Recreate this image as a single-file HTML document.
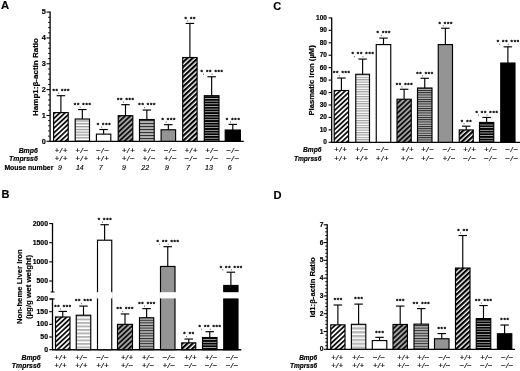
<!DOCTYPE html>
<html><head><meta charset="utf-8"><title>Figure</title>
<style>html,body{margin:0;padding:0;background:#fff}svg{display:block;filter:blur(0.35px)}</style>
</head><body>
<svg width="520" height="371" viewBox="0 0 520 371" font-family='"Liberation Sans", sans-serif' fill="#000">

<defs>
<pattern id="dW" width="3.5" height="3.5" patternUnits="userSpaceOnUse" patternTransform="rotate(-43)">
<rect width="3.5" height="3.5" fill="#fff"/><rect width="3.5" height="1.8" fill="#111"/></pattern>
<pattern id="dG" width="3.6" height="3.6" patternUnits="userSpaceOnUse" patternTransform="rotate(-43)">
<rect width="3.6" height="3.6" fill="#a6a6a6"/><rect width="3.6" height="1.85" fill="#111"/></pattern>
<pattern id="dB" width="3.6" height="3.6" patternUnits="userSpaceOnUse" patternTransform="rotate(-43)">
<rect width="3.6" height="3.6" fill="#fff"/><rect width="3.6" height="2.2" fill="#000"/></pattern>
<pattern id="hW" width="4" height="2.8" patternUnits="userSpaceOnUse">
<rect width="4" height="2.8" fill="#fff"/><rect width="4" height="1.3" fill="#969696"/></pattern>
<pattern id="hWB" width="4" height="3.5" patternUnits="userSpaceOnUse">
<rect width="4" height="3.5" fill="#fff"/><rect width="4" height="1.9" fill="#b4b4b4"/></pattern>
<pattern id="hWC" width="4" height="2.4" patternUnits="userSpaceOnUse">
<rect width="4" height="2.4" fill="#fff"/><rect width="4" height="1.15" fill="#9c9c9c"/></pattern>
<pattern id="hWD" width="4" height="3.85" patternUnits="userSpaceOnUse">
<rect width="4" height="3.85" fill="#fff"/><rect width="4" height="2.4" fill="#b8b8b8"/></pattern>
<pattern id="hG" width="4" height="3.0" patternUnits="userSpaceOnUse">
<rect width="4" height="3.0" fill="#b4b4b4"/><rect width="4" height="1.1" fill="#333"/></pattern>
<pattern id="hG2" width="4" height="2.25" patternUnits="userSpaceOnUse">
<rect width="4" height="2.25" fill="#b4b4b4"/><rect width="4" height="0.95" fill="#222"/></pattern>
<pattern id="hG3" width="4" height="2.6" patternUnits="userSpaceOnUse">
<rect width="4" height="2.6" fill="#b4b4b4"/><rect width="4" height="1.0" fill="#2a2a2a"/></pattern>
<pattern id="hB" width="4" height="2.65" patternUnits="userSpaceOnUse">
<rect width="4" height="2.65" fill="#000"/><rect width="4" height="0.8" fill="#c4c4c4"/></pattern>
</defs>

<rect width="520" height="371" fill="#fff"/>
<text x="0.90" y="9.30" font-size="11.2" font-weight="bold" font-style="normal" text-anchor="start"  stroke="#000" stroke-width="0.18">A</text>
<text x="1.50" y="198.40" font-size="11.0" font-weight="bold" font-style="normal" text-anchor="start"  stroke="#000" stroke-width="0.18">B</text>
<text x="273.20" y="10.20" font-size="11.0" font-weight="bold" font-style="normal" text-anchor="start"  stroke="#000" stroke-width="0.18">C</text>
<text x="273.60" y="198.70" font-size="11.1" font-weight="bold" font-style="normal" text-anchor="start"  stroke="#000" stroke-width="0.18">D</text>
<line x1="50.10" y1="11.60" x2="50.10" y2="141.80" stroke="#000" stroke-width="1.3"/>
<line x1="49.60" y1="141.30" x2="243.80" y2="141.30" stroke="#000" stroke-width="1.35"/>
<line x1="46.50" y1="141.30" x2="50.10" y2="141.30" stroke="#000" stroke-width="1.1"/>
<line x1="48.10" y1="136.13" x2="50.10" y2="136.13" stroke="#000" stroke-width="0.9"/>
<line x1="48.10" y1="130.96" x2="50.10" y2="130.96" stroke="#000" stroke-width="0.9"/>
<line x1="48.10" y1="125.80" x2="50.10" y2="125.80" stroke="#000" stroke-width="0.9"/>
<line x1="48.10" y1="120.63" x2="50.10" y2="120.63" stroke="#000" stroke-width="0.9"/>
<line x1="46.50" y1="115.46" x2="50.10" y2="115.46" stroke="#000" stroke-width="1.1"/>
<line x1="48.10" y1="110.29" x2="50.10" y2="110.29" stroke="#000" stroke-width="0.9"/>
<line x1="48.10" y1="105.12" x2="50.10" y2="105.12" stroke="#000" stroke-width="0.9"/>
<line x1="48.10" y1="99.96" x2="50.10" y2="99.96" stroke="#000" stroke-width="0.9"/>
<line x1="48.10" y1="94.79" x2="50.10" y2="94.79" stroke="#000" stroke-width="0.9"/>
<line x1="46.50" y1="89.62" x2="50.10" y2="89.62" stroke="#000" stroke-width="1.1"/>
<line x1="48.10" y1="84.45" x2="50.10" y2="84.45" stroke="#000" stroke-width="0.9"/>
<line x1="48.10" y1="79.28" x2="50.10" y2="79.28" stroke="#000" stroke-width="0.9"/>
<line x1="48.10" y1="74.12" x2="50.10" y2="74.12" stroke="#000" stroke-width="0.9"/>
<line x1="48.10" y1="68.95" x2="50.10" y2="68.95" stroke="#000" stroke-width="0.9"/>
<line x1="46.50" y1="63.78" x2="50.10" y2="63.78" stroke="#000" stroke-width="1.1"/>
<line x1="48.10" y1="58.61" x2="50.10" y2="58.61" stroke="#000" stroke-width="0.9"/>
<line x1="48.10" y1="53.44" x2="50.10" y2="53.44" stroke="#000" stroke-width="0.9"/>
<line x1="48.10" y1="48.28" x2="50.10" y2="48.28" stroke="#000" stroke-width="0.9"/>
<line x1="48.10" y1="43.11" x2="50.10" y2="43.11" stroke="#000" stroke-width="0.9"/>
<line x1="46.50" y1="37.94" x2="50.10" y2="37.94" stroke="#000" stroke-width="1.1"/>
<line x1="48.10" y1="32.77" x2="50.10" y2="32.77" stroke="#000" stroke-width="0.9"/>
<line x1="48.10" y1="27.60" x2="50.10" y2="27.60" stroke="#000" stroke-width="0.9"/>
<line x1="48.10" y1="22.44" x2="50.10" y2="22.44" stroke="#000" stroke-width="0.9"/>
<line x1="48.10" y1="17.27" x2="50.10" y2="17.27" stroke="#000" stroke-width="0.9"/>
<line x1="46.50" y1="12.10" x2="50.10" y2="12.10" stroke="#000" stroke-width="1.1"/>
<text x="45.90" y="143.56" font-size="7.3" font-weight="bold" font-style="normal" text-anchor="end"  stroke="#000" stroke-width="0.18">0</text>
<text x="45.90" y="117.72" font-size="7.3" font-weight="bold" font-style="normal" text-anchor="end"  stroke="#000" stroke-width="0.18">1</text>
<text x="45.90" y="91.88" font-size="7.3" font-weight="bold" font-style="normal" text-anchor="end"  stroke="#000" stroke-width="0.18">2</text>
<text x="45.90" y="66.04" font-size="7.3" font-weight="bold" font-style="normal" text-anchor="end"  stroke="#000" stroke-width="0.18">3</text>
<text x="45.90" y="40.20" font-size="7.3" font-weight="bold" font-style="normal" text-anchor="end"  stroke="#000" stroke-width="0.18">4</text>
<text x="45.90" y="14.36" font-size="7.3" font-weight="bold" font-style="normal" text-anchor="end"  stroke="#000" stroke-width="0.18">5</text>
<text x="38.30" y="77.00" font-size="8.03" font-weight="bold" font-style="normal" text-anchor="middle" transform="rotate(-90 38.3 77.0)"  stroke="#000" stroke-width="0.18">Hamp1:β-actin Ratio</text>
<line x1="60.90" y1="95.70" x2="60.90" y2="112.61" stroke="#000" stroke-width="1.15"/>
<line x1="56.65" y1="95.70" x2="65.15" y2="95.70" stroke="#000" stroke-width="1.15"/>
<rect x="53.60" y="112.61" width="14.60" height="28.69" fill="url(#dW)" stroke="#000" stroke-width="1.15"/>
<text x="61.26" y="93.05" font-size="6.0" font-weight="bold" font-style="normal" text-anchor="middle" stroke="#000" stroke-width="0.28" letter-spacing="0.72" word-spacing="0">** ***</text>
<rect x="58.30" y="92.60" width="0.8" height="1.3" fill="#555"/>
<text x="61.25" y="153.00" font-size="8.0" font-weight="normal" font-style="italic" text-anchor="middle" letter-spacing="0.7" stroke="#000" stroke-width="0.15">+/+</text>
<text x="61.25" y="161.30" font-size="8.0" font-weight="normal" font-style="italic" text-anchor="middle" letter-spacing="0.7" stroke="#000" stroke-width="0.15">+/+</text>
<text x="60.00" y="170.00" font-size="7.0" font-weight="normal" font-style="italic" text-anchor="middle" stroke="#000" stroke-width="0.15">9</text>
<line x1="82.35" y1="109.53" x2="82.35" y2="119.01" stroke="#000" stroke-width="1.15"/>
<line x1="78.10" y1="109.53" x2="86.60" y2="109.53" stroke="#000" stroke-width="1.15"/>
<rect x="75.20" y="119.01" width="14.30" height="22.29" fill="url(#hW)" stroke="#000" stroke-width="1.15"/>
<text x="82.71" y="106.88" font-size="6.0" font-weight="bold" font-style="normal" text-anchor="middle" stroke="#000" stroke-width="0.28" letter-spacing="0.72" word-spacing="0">** ***</text>
<rect x="79.75" y="106.43" width="0.8" height="1.3" fill="#555"/>
<text x="82.05" y="153.00" font-size="8.0" font-weight="normal" font-style="italic" text-anchor="middle" letter-spacing="0.7" stroke="#000" stroke-width="0.15">+/−</text>
<text x="82.05" y="161.30" font-size="8.0" font-weight="normal" font-style="italic" text-anchor="middle" letter-spacing="0.7" stroke="#000" stroke-width="0.15">+/+</text>
<text x="79.80" y="170.00" font-size="7.0" font-weight="normal" font-style="italic" text-anchor="middle" stroke="#000" stroke-width="0.15">14</text>
<line x1="103.60" y1="129.51" x2="103.60" y2="134.13" stroke="#000" stroke-width="1.15"/>
<line x1="99.35" y1="129.51" x2="107.85" y2="129.51" stroke="#000" stroke-width="1.15"/>
<rect x="96.40" y="134.13" width="14.40" height="7.17" fill="#fff" stroke="#000" stroke-width="1.15"/>
<text x="103.96" y="126.86" font-size="6.0" font-weight="bold" font-style="normal" text-anchor="middle" stroke="#000" stroke-width="0.28" letter-spacing="0.72" word-spacing="0">* ***</text>
<rect x="101.00" y="126.41" width="0.8" height="1.3" fill="#555"/>
<text x="102.85" y="153.00" font-size="8.0" font-weight="normal" font-style="italic" text-anchor="middle" letter-spacing="0.7" stroke="#000" stroke-width="0.15">−/−</text>
<text x="102.85" y="161.30" font-size="8.0" font-weight="normal" font-style="italic" text-anchor="middle" letter-spacing="0.7" stroke="#000" stroke-width="0.15">+/+</text>
<text x="100.70" y="170.00" font-size="7.0" font-weight="normal" font-style="italic" text-anchor="middle" stroke="#000" stroke-width="0.15">7</text>
<line x1="125.50" y1="104.66" x2="125.50" y2="115.68" stroke="#000" stroke-width="1.15"/>
<line x1="121.25" y1="104.66" x2="129.75" y2="104.66" stroke="#000" stroke-width="1.15"/>
<rect x="118.20" y="115.68" width="14.60" height="25.62" fill="url(#dG)" stroke="#000" stroke-width="1.15"/>
<text x="125.86" y="102.01" font-size="6.0" font-weight="bold" font-style="normal" text-anchor="middle" stroke="#000" stroke-width="0.28" letter-spacing="0.72" word-spacing="0">** ***</text>
<rect x="122.90" y="101.56" width="0.8" height="1.3" fill="#555"/>
<text x="128.55" y="153.00" font-size="8.0" font-weight="normal" font-style="italic" text-anchor="middle" letter-spacing="0.7" stroke="#000" stroke-width="0.15">+/+</text>
<text x="128.55" y="161.30" font-size="8.0" font-weight="normal" font-style="italic" text-anchor="middle" letter-spacing="0.7" stroke="#000" stroke-width="0.15">+/−</text>
<text x="124.00" y="170.00" font-size="7.0" font-weight="normal" font-style="italic" text-anchor="middle" stroke="#000" stroke-width="0.15">9</text>
<line x1="146.85" y1="110.04" x2="146.85" y2="119.52" stroke="#000" stroke-width="1.15"/>
<line x1="142.60" y1="110.04" x2="151.10" y2="110.04" stroke="#000" stroke-width="1.15"/>
<rect x="139.50" y="119.52" width="14.70" height="21.78" fill="url(#hG)" stroke="#000" stroke-width="1.15"/>
<text x="147.21" y="107.39" font-size="6.0" font-weight="bold" font-style="normal" text-anchor="middle" stroke="#000" stroke-width="0.28" letter-spacing="0.72" word-spacing="0">** ***</text>
<rect x="144.25" y="106.94" width="0.8" height="1.3" fill="#555"/>
<text x="149.35" y="153.00" font-size="8.0" font-weight="normal" font-style="italic" text-anchor="middle" letter-spacing="0.7" stroke="#000" stroke-width="0.15">+/−</text>
<text x="149.35" y="161.30" font-size="8.0" font-weight="normal" font-style="italic" text-anchor="middle" letter-spacing="0.7" stroke="#000" stroke-width="0.15">+/−</text>
<text x="145.20" y="170.00" font-size="7.0" font-weight="normal" font-style="italic" text-anchor="middle" stroke="#000" stroke-width="0.15">22</text>
<line x1="168.35" y1="124.65" x2="168.35" y2="129.77" stroke="#000" stroke-width="1.15"/>
<line x1="164.10" y1="124.65" x2="172.60" y2="124.65" stroke="#000" stroke-width="1.15"/>
<rect x="161.10" y="129.77" width="14.50" height="11.53" fill="#949494" stroke="#000" stroke-width="1.15"/>
<text x="168.71" y="122.00" font-size="6.0" font-weight="bold" font-style="normal" text-anchor="middle" stroke="#000" stroke-width="0.28" letter-spacing="0.72" word-spacing="0">* ***</text>
<rect x="165.75" y="121.55" width="0.8" height="1.3" fill="#555"/>
<text x="170.55" y="153.00" font-size="8.0" font-weight="normal" font-style="italic" text-anchor="middle" letter-spacing="0.7" stroke="#000" stroke-width="0.15">−/−</text>
<text x="170.55" y="161.30" font-size="8.0" font-weight="normal" font-style="italic" text-anchor="middle" letter-spacing="0.7" stroke="#000" stroke-width="0.15">+/−</text>
<text x="166.90" y="170.00" font-size="7.0" font-weight="normal" font-style="italic" text-anchor="middle" stroke="#000" stroke-width="0.15">9</text>
<line x1="189.90" y1="23.45" x2="189.90" y2="57.52" stroke="#000" stroke-width="1.15"/>
<line x1="185.65" y1="23.45" x2="194.15" y2="23.45" stroke="#000" stroke-width="1.15"/>
<rect x="182.70" y="57.52" width="14.40" height="83.78" fill="url(#dB)" stroke="#000" stroke-width="1.15"/>
<text x="190.26" y="20.80" font-size="6.0" font-weight="bold" font-style="normal" text-anchor="middle" stroke="#000" stroke-width="0.28" letter-spacing="0.72" word-spacing="0">* **</text>
<rect x="187.30" y="20.35" width="0.8" height="1.3" fill="#555"/>
<text x="191.35" y="153.00" font-size="8.0" font-weight="normal" font-style="italic" text-anchor="middle" letter-spacing="0.7" stroke="#000" stroke-width="0.15">+/+</text>
<text x="191.35" y="161.30" font-size="8.0" font-weight="normal" font-style="italic" text-anchor="middle" letter-spacing="0.7" stroke="#000" stroke-width="0.15">−/−</text>
<text x="188.00" y="170.00" font-size="7.0" font-weight="normal" font-style="italic" text-anchor="middle" stroke="#000" stroke-width="0.15">7</text>
<line x1="211.65" y1="76.74" x2="211.65" y2="95.70" stroke="#000" stroke-width="1.15"/>
<line x1="207.40" y1="76.74" x2="215.90" y2="76.74" stroke="#000" stroke-width="1.15"/>
<rect x="204.30" y="95.70" width="14.70" height="45.60" fill="url(#hB)" stroke="#000" stroke-width="1.15"/>
<text x="212.01" y="74.09" font-size="6.0" font-weight="bold" font-style="normal" text-anchor="middle" stroke="#000" stroke-width="0.28" letter-spacing="0.72" word-spacing="0">* ** ***</text>
<rect x="203.15" y="73.64" width="0.8" height="1.3" fill="#555"/>
<rect x="211.65" y="73.64" width="0.8" height="1.3" fill="#555"/>
<text x="212.05" y="153.00" font-size="8.0" font-weight="normal" font-style="italic" text-anchor="middle" letter-spacing="0.7" stroke="#000" stroke-width="0.15">+/−</text>
<text x="212.05" y="161.30" font-size="8.0" font-weight="normal" font-style="italic" text-anchor="middle" letter-spacing="0.7" stroke="#000" stroke-width="0.15">−/−</text>
<text x="209.00" y="170.00" font-size="7.0" font-weight="normal" font-style="italic" text-anchor="middle" stroke="#000" stroke-width="0.15">13</text>
<line x1="232.80" y1="124.39" x2="232.80" y2="130.03" stroke="#000" stroke-width="1.15"/>
<line x1="228.55" y1="124.39" x2="237.05" y2="124.39" stroke="#000" stroke-width="1.15"/>
<rect x="225.20" y="130.03" width="15.20" height="11.27" fill="#000" stroke="#000" stroke-width="1.15"/>
<text x="233.16" y="121.74" font-size="6.0" font-weight="bold" font-style="normal" text-anchor="middle" stroke="#000" stroke-width="0.28" letter-spacing="0.72" word-spacing="0">* ***</text>
<rect x="230.20" y="121.29" width="0.8" height="1.3" fill="#555"/>
<text x="233.05" y="153.00" font-size="8.0" font-weight="normal" font-style="italic" text-anchor="middle" letter-spacing="0.7" stroke="#000" stroke-width="0.15">−/−</text>
<text x="233.05" y="161.30" font-size="8.0" font-weight="normal" font-style="italic" text-anchor="middle" letter-spacing="0.7" stroke="#000" stroke-width="0.15">−/−</text>
<text x="229.80" y="170.00" font-size="7.0" font-weight="normal" font-style="italic" text-anchor="middle" stroke="#000" stroke-width="0.15">6</text>
<text x="37.80" y="153.00" font-size="6.9" font-weight="bold" font-style="italic" text-anchor="end"  stroke="#000" stroke-width="0.18">Bmp6</text>
<text x="37.80" y="161.30" font-size="6.9" font-weight="bold" font-style="italic" text-anchor="end"  stroke="#000" stroke-width="0.18">Tmprss6</text>
<text x="53.40" y="170.00" font-size="6.9" font-weight="bold" font-style="normal" text-anchor="end"  stroke="#000" stroke-width="0.18">Mouse number</text>
<line x1="331.70" y1="17.40" x2="331.70" y2="142.80" stroke="#000" stroke-width="1.3"/>
<line x1="331.20" y1="142.30" x2="520.00" y2="142.30" stroke="#000" stroke-width="1.35"/>
<line x1="328.60" y1="142.30" x2="331.70" y2="142.30" stroke="#000" stroke-width="1.1"/>
<line x1="328.60" y1="129.86" x2="331.70" y2="129.86" stroke="#000" stroke-width="1.1"/>
<line x1="328.60" y1="117.42" x2="331.70" y2="117.42" stroke="#000" stroke-width="1.1"/>
<line x1="328.60" y1="104.98" x2="331.70" y2="104.98" stroke="#000" stroke-width="1.1"/>
<line x1="328.60" y1="92.54" x2="331.70" y2="92.54" stroke="#000" stroke-width="1.1"/>
<line x1="328.60" y1="80.10" x2="331.70" y2="80.10" stroke="#000" stroke-width="1.1"/>
<line x1="328.60" y1="67.66" x2="331.70" y2="67.66" stroke="#000" stroke-width="1.1"/>
<line x1="328.60" y1="55.22" x2="331.70" y2="55.22" stroke="#000" stroke-width="1.1"/>
<line x1="328.60" y1="42.78" x2="331.70" y2="42.78" stroke="#000" stroke-width="1.1"/>
<line x1="328.60" y1="30.34" x2="331.70" y2="30.34" stroke="#000" stroke-width="1.1"/>
<line x1="328.60" y1="17.90" x2="331.70" y2="17.90" stroke="#000" stroke-width="1.1"/>
<text x="326.90" y="144.28" font-size="6.5" font-weight="bold" font-style="normal" text-anchor="end"  stroke="#000" stroke-width="0.18">0</text>
<text x="326.90" y="131.84" font-size="6.5" font-weight="bold" font-style="normal" text-anchor="end"  stroke="#000" stroke-width="0.18">10</text>
<text x="326.90" y="119.40" font-size="6.5" font-weight="bold" font-style="normal" text-anchor="end"  stroke="#000" stroke-width="0.18">20</text>
<text x="326.90" y="106.96" font-size="6.5" font-weight="bold" font-style="normal" text-anchor="end"  stroke="#000" stroke-width="0.18">30</text>
<text x="326.90" y="94.52" font-size="6.5" font-weight="bold" font-style="normal" text-anchor="end"  stroke="#000" stroke-width="0.18">40</text>
<text x="326.90" y="82.08" font-size="6.5" font-weight="bold" font-style="normal" text-anchor="end"  stroke="#000" stroke-width="0.18">50</text>
<text x="326.90" y="69.64" font-size="6.5" font-weight="bold" font-style="normal" text-anchor="end"  stroke="#000" stroke-width="0.18">60</text>
<text x="326.90" y="57.20" font-size="6.5" font-weight="bold" font-style="normal" text-anchor="end"  stroke="#000" stroke-width="0.18">70</text>
<text x="326.90" y="44.76" font-size="6.5" font-weight="bold" font-style="normal" text-anchor="end"  stroke="#000" stroke-width="0.18">80</text>
<text x="326.90" y="32.32" font-size="6.5" font-weight="bold" font-style="normal" text-anchor="end"  stroke="#000" stroke-width="0.18">90</text>
<text x="326.90" y="19.88" font-size="6.5" font-weight="bold" font-style="normal" text-anchor="end"  stroke="#000" stroke-width="0.18">100</text>
<text x="314.30" y="80.40" font-size="7.65" font-weight="bold" font-style="normal" text-anchor="middle" transform="rotate(-90 314.3 80.4)"  stroke="#000" stroke-width="0.18">Plasmatic Iron (µM)</text>
<line x1="341.40" y1="78.03" x2="341.40" y2="90.51" stroke="#000" stroke-width="1.15"/>
<line x1="337.15" y1="78.03" x2="345.65" y2="78.03" stroke="#000" stroke-width="1.15"/>
<rect x="334.20" y="90.51" width="14.40" height="51.79" fill="url(#dW)" stroke="#000" stroke-width="1.15"/>
<text x="341.76" y="75.38" font-size="6.0" font-weight="bold" font-style="normal" text-anchor="middle" stroke="#000" stroke-width="0.28" letter-spacing="0.72" word-spacing="0">** ***</text>
<rect x="338.80" y="74.93" width="0.8" height="1.3" fill="#555"/>
<text x="340.85" y="152.20" font-size="8.0" font-weight="normal" font-style="italic" text-anchor="middle" letter-spacing="0.7" stroke="#000" stroke-width="0.15">+/+</text>
<text x="340.85" y="160.80" font-size="8.0" font-weight="normal" font-style="italic" text-anchor="middle" letter-spacing="0.7" stroke="#000" stroke-width="0.15">+/+</text>
<line x1="362.62" y1="59.06" x2="362.62" y2="74.28" stroke="#000" stroke-width="1.15"/>
<line x1="358.38" y1="59.06" x2="366.88" y2="59.06" stroke="#000" stroke-width="1.15"/>
<rect x="355.75" y="74.28" width="13.75" height="68.02" fill="url(#hWC)" stroke="#000" stroke-width="1.15"/>
<text x="362.99" y="56.41" font-size="6.0" font-weight="bold" font-style="normal" text-anchor="middle" stroke="#000" stroke-width="0.28" letter-spacing="0.72" word-spacing="0">* ** ***</text>
<rect x="354.12" y="55.96" width="0.8" height="1.3" fill="#555"/>
<rect x="362.62" y="55.96" width="0.8" height="1.3" fill="#555"/>
<text x="361.95" y="152.20" font-size="8.0" font-weight="normal" font-style="italic" text-anchor="middle" letter-spacing="0.7" stroke="#000" stroke-width="0.15">+/−</text>
<text x="361.95" y="160.80" font-size="8.0" font-weight="normal" font-style="italic" text-anchor="middle" letter-spacing="0.7" stroke="#000" stroke-width="0.15">+/+</text>
<line x1="383.50" y1="38.09" x2="383.50" y2="44.58" stroke="#000" stroke-width="1.15"/>
<line x1="379.25" y1="38.09" x2="387.75" y2="38.09" stroke="#000" stroke-width="1.15"/>
<rect x="376.25" y="44.58" width="14.50" height="97.72" fill="#fff" stroke="#000" stroke-width="1.15"/>
<text x="383.86" y="35.44" font-size="6.0" font-weight="bold" font-style="normal" text-anchor="middle" stroke="#000" stroke-width="0.28" letter-spacing="0.72" word-spacing="0">* ***</text>
<rect x="380.90" y="34.99" width="0.8" height="1.3" fill="#555"/>
<text x="382.65" y="152.20" font-size="8.0" font-weight="normal" font-style="italic" text-anchor="middle" letter-spacing="0.7" stroke="#000" stroke-width="0.15">−/−</text>
<text x="382.65" y="160.80" font-size="8.0" font-weight="normal" font-style="italic" text-anchor="middle" letter-spacing="0.7" stroke="#000" stroke-width="0.15">+/+</text>
<line x1="404.12" y1="89.26" x2="404.12" y2="99.24" stroke="#000" stroke-width="1.15"/>
<line x1="399.88" y1="89.26" x2="408.38" y2="89.26" stroke="#000" stroke-width="1.15"/>
<rect x="397.00" y="99.24" width="14.25" height="43.06" fill="url(#dG)" stroke="#000" stroke-width="1.15"/>
<text x="404.49" y="86.61" font-size="6.0" font-weight="bold" font-style="normal" text-anchor="middle" stroke="#000" stroke-width="0.28" letter-spacing="0.72" word-spacing="0">** ***</text>
<rect x="401.52" y="86.16" width="0.8" height="1.3" fill="#555"/>
<text x="407.65" y="152.20" font-size="8.0" font-weight="normal" font-style="italic" text-anchor="middle" letter-spacing="0.7" stroke="#000" stroke-width="0.15">+/+</text>
<text x="407.65" y="160.80" font-size="8.0" font-weight="normal" font-style="italic" text-anchor="middle" letter-spacing="0.7" stroke="#000" stroke-width="0.15">+/−</text>
<line x1="424.75" y1="78.28" x2="424.75" y2="88.01" stroke="#000" stroke-width="1.15"/>
<line x1="420.50" y1="78.28" x2="429.00" y2="78.28" stroke="#000" stroke-width="1.15"/>
<rect x="417.50" y="88.01" width="14.50" height="54.29" fill="url(#hG2)" stroke="#000" stroke-width="1.15"/>
<text x="425.11" y="75.63" font-size="6.0" font-weight="bold" font-style="normal" text-anchor="middle" stroke="#000" stroke-width="0.28" letter-spacing="0.72" word-spacing="0">** ***</text>
<rect x="422.15" y="75.18" width="0.8" height="1.3" fill="#555"/>
<text x="427.85" y="152.20" font-size="8.0" font-weight="normal" font-style="italic" text-anchor="middle" letter-spacing="0.7" stroke="#000" stroke-width="0.15">+/−</text>
<text x="427.85" y="160.80" font-size="8.0" font-weight="normal" font-style="italic" text-anchor="middle" letter-spacing="0.7" stroke="#000" stroke-width="0.15">+/−</text>
<line x1="445.38" y1="28.23" x2="445.38" y2="44.58" stroke="#000" stroke-width="1.15"/>
<line x1="441.12" y1="28.23" x2="449.62" y2="28.23" stroke="#000" stroke-width="1.15"/>
<rect x="438.25" y="44.58" width="14.25" height="97.72" fill="#949494" stroke="#000" stroke-width="1.15"/>
<text x="445.74" y="25.58" font-size="6.0" font-weight="bold" font-style="normal" text-anchor="middle" stroke="#000" stroke-width="0.28" letter-spacing="0.72" word-spacing="0">* ***</text>
<rect x="442.77" y="25.13" width="0.8" height="1.3" fill="#555"/>
<text x="449.25" y="152.20" font-size="8.0" font-weight="normal" font-style="italic" text-anchor="middle" letter-spacing="0.7" stroke="#000" stroke-width="0.15">−/−</text>
<text x="449.25" y="160.80" font-size="8.0" font-weight="normal" font-style="italic" text-anchor="middle" letter-spacing="0.7" stroke="#000" stroke-width="0.15">+/−</text>
<line x1="466.25" y1="126.20" x2="466.25" y2="129.94" stroke="#000" stroke-width="1.15"/>
<line x1="462.00" y1="126.20" x2="470.50" y2="126.20" stroke="#000" stroke-width="1.15"/>
<rect x="459.25" y="129.94" width="14.00" height="12.36" fill="url(#dB)" stroke="#000" stroke-width="1.15"/>
<text x="466.61" y="123.55" font-size="6.0" font-weight="bold" font-style="normal" text-anchor="middle" stroke="#000" stroke-width="0.28" letter-spacing="0.72" word-spacing="0">* **</text>
<rect x="463.65" y="123.10" width="0.8" height="1.3" fill="#555"/>
<text x="469.85" y="152.20" font-size="8.0" font-weight="normal" font-style="italic" text-anchor="middle" letter-spacing="0.7" stroke="#000" stroke-width="0.15">+/+</text>
<text x="469.85" y="160.80" font-size="8.0" font-weight="normal" font-style="italic" text-anchor="middle" letter-spacing="0.7" stroke="#000" stroke-width="0.15">−/−</text>
<line x1="486.62" y1="117.46" x2="486.62" y2="122.46" stroke="#000" stroke-width="1.15"/>
<line x1="482.38" y1="117.46" x2="490.88" y2="117.46" stroke="#000" stroke-width="1.15"/>
<rect x="479.50" y="122.46" width="14.25" height="19.84" fill="url(#hB)" stroke="#000" stroke-width="1.15"/>
<text x="486.99" y="114.81" font-size="6.0" font-weight="bold" font-style="normal" text-anchor="middle" stroke="#000" stroke-width="0.28" letter-spacing="0.72" word-spacing="0">* ** ***</text>
<rect x="478.12" y="114.36" width="0.8" height="1.3" fill="#555"/>
<rect x="486.62" y="114.36" width="0.8" height="1.3" fill="#555"/>
<text x="490.85" y="152.20" font-size="8.0" font-weight="normal" font-style="italic" text-anchor="middle" letter-spacing="0.7" stroke="#000" stroke-width="0.15">+/−</text>
<text x="490.85" y="160.80" font-size="8.0" font-weight="normal" font-style="italic" text-anchor="middle" letter-spacing="0.7" stroke="#000" stroke-width="0.15">−/−</text>
<line x1="507.88" y1="46.83" x2="507.88" y2="63.05" stroke="#000" stroke-width="1.15"/>
<line x1="503.62" y1="46.83" x2="512.12" y2="46.83" stroke="#000" stroke-width="1.15"/>
<rect x="500.75" y="63.05" width="14.25" height="79.25" fill="#000" stroke="#000" stroke-width="1.15"/>
<text x="508.24" y="44.18" font-size="6.0" font-weight="bold" font-style="normal" text-anchor="middle" stroke="#000" stroke-width="0.28" letter-spacing="0.72" word-spacing="0">* ** ***</text>
<rect x="499.38" y="43.73" width="0.8" height="1.3" fill="#555"/>
<rect x="507.88" y="43.73" width="0.8" height="1.3" fill="#555"/>
<text x="512.05" y="152.20" font-size="8.0" font-weight="normal" font-style="italic" text-anchor="middle" letter-spacing="0.7" stroke="#000" stroke-width="0.15">−/−</text>
<text x="512.05" y="160.80" font-size="8.0" font-weight="normal" font-style="italic" text-anchor="middle" letter-spacing="0.7" stroke="#000" stroke-width="0.15">−/−</text>
<text x="321.40" y="152.20" font-size="6.6" font-weight="bold" font-style="italic" text-anchor="end"  stroke="#000" stroke-width="0.18">Bmp6</text>
<text x="321.40" y="160.80" font-size="6.6" font-weight="bold" font-style="italic" text-anchor="end"  stroke="#000" stroke-width="0.18">Tmprss6</text>
<line x1="327.20" y1="224.27" x2="327.20" y2="349.80" stroke="#000" stroke-width="1.3"/>
<line x1="326.70" y1="349.30" x2="515.00" y2="349.30" stroke="#000" stroke-width="1.35"/>
<line x1="323.70" y1="349.30" x2="327.20" y2="349.30" stroke="#000" stroke-width="1.1"/>
<line x1="325.20" y1="345.74" x2="327.20" y2="345.74" stroke="#000" stroke-width="0.9"/>
<line x1="325.20" y1="342.18" x2="327.20" y2="342.18" stroke="#000" stroke-width="0.9"/>
<line x1="325.20" y1="338.63" x2="327.20" y2="338.63" stroke="#000" stroke-width="0.9"/>
<line x1="325.20" y1="335.07" x2="327.20" y2="335.07" stroke="#000" stroke-width="0.9"/>
<line x1="323.70" y1="331.51" x2="327.20" y2="331.51" stroke="#000" stroke-width="1.1"/>
<line x1="325.20" y1="327.95" x2="327.20" y2="327.95" stroke="#000" stroke-width="0.9"/>
<line x1="325.20" y1="324.39" x2="327.20" y2="324.39" stroke="#000" stroke-width="0.9"/>
<line x1="325.20" y1="320.84" x2="327.20" y2="320.84" stroke="#000" stroke-width="0.9"/>
<line x1="325.20" y1="317.28" x2="327.20" y2="317.28" stroke="#000" stroke-width="0.9"/>
<line x1="323.70" y1="313.72" x2="327.20" y2="313.72" stroke="#000" stroke-width="1.1"/>
<line x1="325.20" y1="310.16" x2="327.20" y2="310.16" stroke="#000" stroke-width="0.9"/>
<line x1="325.20" y1="306.60" x2="327.20" y2="306.60" stroke="#000" stroke-width="0.9"/>
<line x1="325.20" y1="303.05" x2="327.20" y2="303.05" stroke="#000" stroke-width="0.9"/>
<line x1="325.20" y1="299.49" x2="327.20" y2="299.49" stroke="#000" stroke-width="0.9"/>
<line x1="323.70" y1="295.93" x2="327.20" y2="295.93" stroke="#000" stroke-width="1.1"/>
<line x1="325.20" y1="292.37" x2="327.20" y2="292.37" stroke="#000" stroke-width="0.9"/>
<line x1="325.20" y1="288.81" x2="327.20" y2="288.81" stroke="#000" stroke-width="0.9"/>
<line x1="325.20" y1="285.26" x2="327.20" y2="285.26" stroke="#000" stroke-width="0.9"/>
<line x1="325.20" y1="281.70" x2="327.20" y2="281.70" stroke="#000" stroke-width="0.9"/>
<line x1="323.70" y1="278.14" x2="327.20" y2="278.14" stroke="#000" stroke-width="1.1"/>
<line x1="325.20" y1="274.58" x2="327.20" y2="274.58" stroke="#000" stroke-width="0.9"/>
<line x1="325.20" y1="271.02" x2="327.20" y2="271.02" stroke="#000" stroke-width="0.9"/>
<line x1="325.20" y1="267.47" x2="327.20" y2="267.47" stroke="#000" stroke-width="0.9"/>
<line x1="325.20" y1="263.91" x2="327.20" y2="263.91" stroke="#000" stroke-width="0.9"/>
<line x1="323.70" y1="260.35" x2="327.20" y2="260.35" stroke="#000" stroke-width="1.1"/>
<line x1="325.20" y1="256.79" x2="327.20" y2="256.79" stroke="#000" stroke-width="0.9"/>
<line x1="325.20" y1="253.23" x2="327.20" y2="253.23" stroke="#000" stroke-width="0.9"/>
<line x1="325.20" y1="249.68" x2="327.20" y2="249.68" stroke="#000" stroke-width="0.9"/>
<line x1="325.20" y1="246.12" x2="327.20" y2="246.12" stroke="#000" stroke-width="0.9"/>
<line x1="323.70" y1="242.56" x2="327.20" y2="242.56" stroke="#000" stroke-width="1.1"/>
<line x1="325.20" y1="239.00" x2="327.20" y2="239.00" stroke="#000" stroke-width="0.9"/>
<line x1="325.20" y1="235.44" x2="327.20" y2="235.44" stroke="#000" stroke-width="0.9"/>
<line x1="325.20" y1="231.89" x2="327.20" y2="231.89" stroke="#000" stroke-width="0.9"/>
<line x1="325.20" y1="228.33" x2="327.20" y2="228.33" stroke="#000" stroke-width="0.9"/>
<line x1="323.70" y1="224.77" x2="327.20" y2="224.77" stroke="#000" stroke-width="1.1"/>
<text x="323.50" y="351.31" font-size="6.6" font-weight="bold" font-style="normal" text-anchor="end"  stroke="#000" stroke-width="0.18">0</text>
<text x="323.50" y="333.52" font-size="6.6" font-weight="bold" font-style="normal" text-anchor="end"  stroke="#000" stroke-width="0.18">1</text>
<text x="323.50" y="315.73" font-size="6.6" font-weight="bold" font-style="normal" text-anchor="end"  stroke="#000" stroke-width="0.18">2</text>
<text x="323.50" y="297.94" font-size="6.6" font-weight="bold" font-style="normal" text-anchor="end"  stroke="#000" stroke-width="0.18">3</text>
<text x="323.50" y="280.15" font-size="6.6" font-weight="bold" font-style="normal" text-anchor="end"  stroke="#000" stroke-width="0.18">4</text>
<text x="323.50" y="262.36" font-size="6.6" font-weight="bold" font-style="normal" text-anchor="end"  stroke="#000" stroke-width="0.18">5</text>
<text x="323.50" y="244.57" font-size="6.6" font-weight="bold" font-style="normal" text-anchor="end"  stroke="#000" stroke-width="0.18">6</text>
<text x="323.50" y="226.78" font-size="6.6" font-weight="bold" font-style="normal" text-anchor="end"  stroke="#000" stroke-width="0.18">7</text>
<text x="315.00" y="287.40" font-size="7.7" font-weight="bold" font-style="normal" text-anchor="middle" transform="rotate(-90 315.0 287.4)"  stroke="#000" stroke-width="0.18">Id1:β-actin Ratio</text>
<line x1="337.88" y1="305.01" x2="337.88" y2="324.83" stroke="#000" stroke-width="1.15"/>
<line x1="333.62" y1="305.01" x2="342.12" y2="305.01" stroke="#000" stroke-width="1.15"/>
<rect x="330.75" y="324.83" width="14.25" height="24.47" fill="url(#dW)" stroke="#000" stroke-width="1.15"/>
<text x="338.24" y="302.36" font-size="6.0" font-weight="bold" font-style="normal" text-anchor="middle" stroke="#000" stroke-width="0.28" letter-spacing="0.72" word-spacing="0">***</text>
<text x="337.28" y="359.70" font-size="8.0" font-weight="normal" font-style="italic" text-anchor="middle" letter-spacing="0.35" stroke="#000" stroke-width="0.15">+/+</text>
<text x="337.28" y="368.30" font-size="8.0" font-weight="normal" font-style="italic" text-anchor="middle" letter-spacing="0.35" stroke="#000" stroke-width="0.15">+/+</text>
<line x1="358.60" y1="304.11" x2="358.60" y2="324.30" stroke="#000" stroke-width="1.15"/>
<line x1="354.35" y1="304.11" x2="362.85" y2="304.11" stroke="#000" stroke-width="1.15"/>
<rect x="351.40" y="324.30" width="14.40" height="25.00" fill="url(#hWD)" stroke="#000" stroke-width="1.15"/>
<text x="358.96" y="301.46" font-size="6.0" font-weight="bold" font-style="normal" text-anchor="middle" stroke="#000" stroke-width="0.28" letter-spacing="0.72" word-spacing="0">***</text>
<text x="358.28" y="359.70" font-size="8.0" font-weight="normal" font-style="italic" text-anchor="middle" letter-spacing="0.35" stroke="#000" stroke-width="0.15">+/−</text>
<text x="358.28" y="368.30" font-size="8.0" font-weight="normal" font-style="italic" text-anchor="middle" letter-spacing="0.35" stroke="#000" stroke-width="0.15">+/+</text>
<line x1="379.55" y1="337.33" x2="379.55" y2="340.55" stroke="#000" stroke-width="1.15"/>
<line x1="375.30" y1="337.33" x2="383.80" y2="337.33" stroke="#000" stroke-width="1.15"/>
<rect x="372.30" y="340.55" width="14.50" height="8.75" fill="#fff" stroke="#000" stroke-width="1.15"/>
<text x="379.91" y="334.68" font-size="6.0" font-weight="bold" font-style="normal" text-anchor="middle" stroke="#000" stroke-width="0.28" letter-spacing="0.72" word-spacing="0">***</text>
<text x="379.07" y="359.70" font-size="8.0" font-weight="normal" font-style="italic" text-anchor="middle" letter-spacing="0.35" stroke="#000" stroke-width="0.15">−/−</text>
<text x="379.07" y="368.30" font-size="8.0" font-weight="normal" font-style="italic" text-anchor="middle" letter-spacing="0.35" stroke="#000" stroke-width="0.15">+/+</text>
<line x1="400.20" y1="306.08" x2="400.20" y2="324.47" stroke="#000" stroke-width="1.15"/>
<line x1="395.95" y1="306.08" x2="404.45" y2="306.08" stroke="#000" stroke-width="1.15"/>
<rect x="393.00" y="324.47" width="14.40" height="24.83" fill="url(#dG)" stroke="#000" stroke-width="1.15"/>
<text x="400.56" y="303.43" font-size="6.0" font-weight="bold" font-style="normal" text-anchor="middle" stroke="#000" stroke-width="0.28" letter-spacing="0.72" word-spacing="0">***</text>
<text x="403.38" y="359.70" font-size="8.0" font-weight="normal" font-style="italic" text-anchor="middle" letter-spacing="0.35" stroke="#000" stroke-width="0.15">+/+</text>
<text x="403.38" y="368.30" font-size="8.0" font-weight="normal" font-style="italic" text-anchor="middle" letter-spacing="0.35" stroke="#000" stroke-width="0.15">+/−</text>
<line x1="421.25" y1="308.58" x2="421.25" y2="324.12" stroke="#000" stroke-width="1.15"/>
<line x1="417.00" y1="308.58" x2="425.50" y2="308.58" stroke="#000" stroke-width="1.15"/>
<rect x="414.00" y="324.12" width="14.50" height="25.18" fill="url(#hG3)" stroke="#000" stroke-width="1.15"/>
<text x="421.61" y="305.93" font-size="6.0" font-weight="bold" font-style="normal" text-anchor="middle" stroke="#000" stroke-width="0.28" letter-spacing="0.72" word-spacing="0">** ***</text>
<rect x="418.65" y="305.48" width="0.8" height="1.3" fill="#555"/>
<text x="423.28" y="359.70" font-size="8.0" font-weight="normal" font-style="italic" text-anchor="middle" letter-spacing="0.35" stroke="#000" stroke-width="0.15">+/−</text>
<text x="423.28" y="368.30" font-size="8.0" font-weight="normal" font-style="italic" text-anchor="middle" letter-spacing="0.35" stroke="#000" stroke-width="0.15">+/−</text>
<line x1="441.75" y1="333.58" x2="441.75" y2="338.76" stroke="#000" stroke-width="1.15"/>
<line x1="437.50" y1="333.58" x2="446.00" y2="333.58" stroke="#000" stroke-width="1.15"/>
<rect x="434.50" y="338.76" width="14.50" height="10.54" fill="#949494" stroke="#000" stroke-width="1.15"/>
<text x="442.11" y="330.93" font-size="6.0" font-weight="bold" font-style="normal" text-anchor="middle" stroke="#000" stroke-width="0.28" letter-spacing="0.72" word-spacing="0">***</text>
<text x="444.57" y="359.70" font-size="8.0" font-weight="normal" font-style="italic" text-anchor="middle" letter-spacing="0.35" stroke="#000" stroke-width="0.15">−/−</text>
<text x="444.57" y="368.30" font-size="8.0" font-weight="normal" font-style="italic" text-anchor="middle" letter-spacing="0.35" stroke="#000" stroke-width="0.15">+/−</text>
<line x1="462.75" y1="235.53" x2="462.75" y2="268.04" stroke="#000" stroke-width="1.15"/>
<line x1="458.50" y1="235.53" x2="467.00" y2="235.53" stroke="#000" stroke-width="1.15"/>
<rect x="455.50" y="268.04" width="14.50" height="81.26" fill="url(#dB)" stroke="#000" stroke-width="1.15"/>
<text x="463.11" y="232.88" font-size="6.0" font-weight="bold" font-style="normal" text-anchor="middle" stroke="#000" stroke-width="0.28" letter-spacing="0.72" word-spacing="0">* **</text>
<rect x="460.15" y="232.43" width="0.8" height="1.3" fill="#555"/>
<text x="465.78" y="359.70" font-size="8.0" font-weight="normal" font-style="italic" text-anchor="middle" letter-spacing="0.35" stroke="#000" stroke-width="0.15">+/+</text>
<text x="465.78" y="368.30" font-size="8.0" font-weight="normal" font-style="italic" text-anchor="middle" letter-spacing="0.35" stroke="#000" stroke-width="0.15">−/−</text>
<line x1="483.50" y1="305.54" x2="483.50" y2="318.58" stroke="#000" stroke-width="1.15"/>
<line x1="479.25" y1="305.54" x2="487.75" y2="305.54" stroke="#000" stroke-width="1.15"/>
<rect x="476.25" y="318.58" width="14.50" height="30.72" fill="url(#hB)" stroke="#000" stroke-width="1.15"/>
<text x="483.86" y="302.89" font-size="6.0" font-weight="bold" font-style="normal" text-anchor="middle" stroke="#000" stroke-width="0.28" letter-spacing="0.72" word-spacing="0">** ***</text>
<rect x="480.90" y="302.44" width="0.8" height="1.3" fill="#555"/>
<text x="486.43" y="359.70" font-size="8.0" font-weight="normal" font-style="italic" text-anchor="middle" letter-spacing="0.35" stroke="#000" stroke-width="0.15">+/−</text>
<text x="486.43" y="368.30" font-size="8.0" font-weight="normal" font-style="italic" text-anchor="middle" letter-spacing="0.35" stroke="#000" stroke-width="0.15">−/−</text>
<line x1="504.60" y1="325.01" x2="504.60" y2="333.76" stroke="#000" stroke-width="1.15"/>
<line x1="500.35" y1="325.01" x2="508.85" y2="325.01" stroke="#000" stroke-width="1.15"/>
<rect x="497.40" y="333.76" width="14.40" height="15.54" fill="#000" stroke="#000" stroke-width="1.15"/>
<text x="504.96" y="322.36" font-size="6.0" font-weight="bold" font-style="normal" text-anchor="middle" stroke="#000" stroke-width="0.28" letter-spacing="0.72" word-spacing="0">***</text>
<text x="507.28" y="359.70" font-size="8.0" font-weight="normal" font-style="italic" text-anchor="middle" letter-spacing="0.35" stroke="#000" stroke-width="0.15">−/−</text>
<text x="507.28" y="368.30" font-size="8.0" font-weight="normal" font-style="italic" text-anchor="middle" letter-spacing="0.35" stroke="#000" stroke-width="0.15">−/−</text>
<text x="317.20" y="359.70" font-size="6.5" font-weight="bold" font-style="italic" text-anchor="end"  stroke="#000" stroke-width="0.18">Bmp6</text>
<text x="317.20" y="368.30" font-size="6.5" font-weight="bold" font-style="italic" text-anchor="end"  stroke="#000" stroke-width="0.18">Tmprss6</text>
<line x1="52.50" y1="350.20" x2="52.50" y2="298.50" stroke="#000" stroke-width="1.3"/>
<line x1="52.50" y1="292.00" x2="52.50" y2="223.06" stroke="#000" stroke-width="1.3"/>
<line x1="52.00" y1="349.70" x2="241.30" y2="349.70" stroke="#000" stroke-width="1.35"/>
<line x1="49.20" y1="349.70" x2="52.50" y2="349.70" stroke="#000" stroke-width="1.1"/>
<text x="48.00" y="351.81" font-size="6.9" font-weight="bold" font-style="normal" text-anchor="end"  stroke="#000" stroke-width="0.18">0</text>
<line x1="49.20" y1="337.02" x2="52.50" y2="337.02" stroke="#000" stroke-width="1.1"/>
<text x="48.00" y="339.14" font-size="6.9" font-weight="bold" font-style="normal" text-anchor="end"  stroke="#000" stroke-width="0.18">50</text>
<line x1="49.20" y1="324.35" x2="52.50" y2="324.35" stroke="#000" stroke-width="1.1"/>
<text x="48.00" y="326.46" font-size="6.9" font-weight="bold" font-style="normal" text-anchor="end"  stroke="#000" stroke-width="0.18">100</text>
<line x1="49.20" y1="311.68" x2="52.50" y2="311.68" stroke="#000" stroke-width="1.1"/>
<text x="48.00" y="313.79" font-size="6.9" font-weight="bold" font-style="normal" text-anchor="end"  stroke="#000" stroke-width="0.18">150</text>
<line x1="49.20" y1="299.00" x2="52.50" y2="299.00" stroke="#000" stroke-width="1.1"/>
<text x="48.00" y="301.12" font-size="6.9" font-weight="bold" font-style="normal" text-anchor="end"  stroke="#000" stroke-width="0.18">200</text>
<line x1="49.20" y1="281.01" x2="52.50" y2="281.01" stroke="#000" stroke-width="1.1"/>
<text x="48.00" y="283.12" font-size="6.9" font-weight="bold" font-style="normal" text-anchor="end"  stroke="#000" stroke-width="0.18">500</text>
<line x1="49.20" y1="261.86" x2="52.50" y2="261.86" stroke="#000" stroke-width="1.1"/>
<text x="48.00" y="263.98" font-size="6.9" font-weight="bold" font-style="normal" text-anchor="end"  stroke="#000" stroke-width="0.18">1000</text>
<line x1="49.20" y1="242.71" x2="52.50" y2="242.71" stroke="#000" stroke-width="1.1"/>
<text x="48.00" y="244.82" font-size="6.9" font-weight="bold" font-style="normal" text-anchor="end"  stroke="#000" stroke-width="0.18">1500</text>
<line x1="49.20" y1="223.56" x2="52.50" y2="223.56" stroke="#000" stroke-width="1.1"/>
<text x="48.00" y="225.67" font-size="6.9" font-weight="bold" font-style="normal" text-anchor="end"  stroke="#000" stroke-width="0.18">2000</text>
<line x1="50.60" y1="292.00" x2="54.50" y2="292.00" stroke="#000" stroke-width="1.0"/>
<line x1="50.00" y1="299.00" x2="54.70" y2="299.00" stroke="#000" stroke-width="1.0"/>
<text x="21.80" y="286.70" font-size="7.7" font-weight="bold" font-style="normal" text-anchor="middle" transform="rotate(-90 21.8 286.7)"  stroke="#000" stroke-width="0.18">Non-heme Liver Iron</text>
<text x="30.80" y="287.00" font-size="7.9" font-weight="bold" font-style="normal" text-anchor="middle" transform="rotate(-90 30.8 287)"  stroke="#000" stroke-width="0.18">(µg/g wet weight)</text>
<line x1="62.75" y1="311.42" x2="62.75" y2="317.00" stroke="#000" stroke-width="1.15"/>
<line x1="58.50" y1="311.42" x2="67.00" y2="311.42" stroke="#000" stroke-width="1.15"/>
<rect x="55.50" y="317.00" width="14.50" height="32.70" fill="url(#dW)" stroke="#000" stroke-width="1.15"/>
<text x="63.11" y="308.77" font-size="6.0" font-weight="bold" font-style="normal" text-anchor="middle" stroke="#000" stroke-width="0.28" letter-spacing="0.72" word-spacing="0">** ***</text>
<rect x="60.15" y="308.32" width="0.8" height="1.3" fill="#555"/>
<text x="60.62" y="359.70" font-size="8.0" font-weight="normal" font-style="italic" text-anchor="middle" letter-spacing="0.45" stroke="#000" stroke-width="0.15">+/+</text>
<text x="60.62" y="368.30" font-size="8.0" font-weight="normal" font-style="italic" text-anchor="middle" letter-spacing="0.45" stroke="#000" stroke-width="0.15">+/+</text>
<line x1="83.50" y1="306.10" x2="83.50" y2="315.22" stroke="#000" stroke-width="1.15"/>
<line x1="79.25" y1="306.10" x2="87.75" y2="306.10" stroke="#000" stroke-width="1.15"/>
<rect x="76.25" y="315.22" width="14.50" height="34.48" fill="url(#hWB)" stroke="#000" stroke-width="1.15"/>
<text x="83.86" y="303.45" font-size="6.0" font-weight="bold" font-style="normal" text-anchor="middle" stroke="#000" stroke-width="0.28" letter-spacing="0.72" word-spacing="0">** ***</text>
<rect x="80.90" y="303.00" width="0.8" height="1.3" fill="#555"/>
<text x="81.47" y="359.70" font-size="8.0" font-weight="normal" font-style="italic" text-anchor="middle" letter-spacing="0.45" stroke="#000" stroke-width="0.15">+/−</text>
<text x="81.47" y="368.30" font-size="8.0" font-weight="normal" font-style="italic" text-anchor="middle" letter-spacing="0.45" stroke="#000" stroke-width="0.15">+/+</text>
<line x1="104.62" y1="224.71" x2="104.62" y2="240.22" stroke="#000" stroke-width="1.15"/>
<line x1="100.38" y1="224.71" x2="108.88" y2="224.71" stroke="#000" stroke-width="1.15"/>
<rect x="97.50" y="240.22" width="14.25" height="109.48" fill="#fff" stroke="#000" stroke-width="1.15"/>
<rect x="96.50" y="292.2" width="16.25" height="6.2" fill="#fff"/>
<text x="104.98" y="222.06" font-size="6.0" font-weight="bold" font-style="normal" text-anchor="middle" stroke="#000" stroke-width="0.28" letter-spacing="0.72" word-spacing="0">* ***</text>
<rect x="102.03" y="221.61" width="0.8" height="1.3" fill="#555"/>
<text x="102.72" y="359.70" font-size="8.0" font-weight="normal" font-style="italic" text-anchor="middle" letter-spacing="0.45" stroke="#000" stroke-width="0.15">−/−</text>
<text x="102.72" y="368.30" font-size="8.0" font-weight="normal" font-style="italic" text-anchor="middle" letter-spacing="0.45" stroke="#000" stroke-width="0.15">+/+</text>
<line x1="125.00" y1="313.96" x2="125.00" y2="324.35" stroke="#000" stroke-width="1.15"/>
<line x1="120.75" y1="313.96" x2="129.25" y2="313.96" stroke="#000" stroke-width="1.15"/>
<rect x="117.50" y="324.35" width="15.00" height="25.35" fill="url(#dG)" stroke="#000" stroke-width="1.15"/>
<text x="125.36" y="311.31" font-size="6.0" font-weight="bold" font-style="normal" text-anchor="middle" stroke="#000" stroke-width="0.28" letter-spacing="0.72" word-spacing="0">** ***</text>
<rect x="122.40" y="310.86" width="0.8" height="1.3" fill="#555"/>
<text x="127.12" y="359.70" font-size="8.0" font-weight="normal" font-style="italic" text-anchor="middle" letter-spacing="0.45" stroke="#000" stroke-width="0.15">+/+</text>
<text x="127.12" y="368.30" font-size="8.0" font-weight="normal" font-style="italic" text-anchor="middle" letter-spacing="0.45" stroke="#000" stroke-width="0.15">+/−</text>
<line x1="146.62" y1="308.63" x2="146.62" y2="317.76" stroke="#000" stroke-width="1.15"/>
<line x1="142.38" y1="308.63" x2="150.88" y2="308.63" stroke="#000" stroke-width="1.15"/>
<rect x="139.50" y="317.76" width="14.25" height="31.94" fill="url(#hG3)" stroke="#000" stroke-width="1.15"/>
<text x="146.99" y="305.98" font-size="6.0" font-weight="bold" font-style="normal" text-anchor="middle" stroke="#000" stroke-width="0.28" letter-spacing="0.72" word-spacing="0">** ***</text>
<rect x="144.03" y="305.53" width="0.8" height="1.3" fill="#555"/>
<text x="148.12" y="359.70" font-size="8.0" font-weight="normal" font-style="italic" text-anchor="middle" letter-spacing="0.45" stroke="#000" stroke-width="0.15">+/−</text>
<text x="148.12" y="368.30" font-size="8.0" font-weight="normal" font-style="italic" text-anchor="middle" letter-spacing="0.45" stroke="#000" stroke-width="0.15">+/−</text>
<line x1="167.75" y1="246.69" x2="167.75" y2="266.46" stroke="#000" stroke-width="1.15"/>
<line x1="163.50" y1="246.69" x2="172.00" y2="246.69" stroke="#000" stroke-width="1.15"/>
<rect x="160.50" y="266.46" width="14.50" height="83.24" fill="#949494" stroke="#000" stroke-width="1.15"/>
<rect x="159.50" y="292.2" width="16.50" height="6.2" fill="#fff"/>
<text x="168.11" y="244.04" font-size="6.0" font-weight="bold" font-style="normal" text-anchor="middle" stroke="#000" stroke-width="0.28" letter-spacing="0.72" word-spacing="0">* ** ***</text>
<rect x="159.25" y="243.59" width="0.8" height="1.3" fill="#555"/>
<rect x="167.75" y="243.59" width="0.8" height="1.3" fill="#555"/>
<text x="168.97" y="359.70" font-size="8.0" font-weight="normal" font-style="italic" text-anchor="middle" letter-spacing="0.45" stroke="#000" stroke-width="0.15">−/−</text>
<text x="168.97" y="368.30" font-size="8.0" font-weight="normal" font-style="italic" text-anchor="middle" letter-spacing="0.45" stroke="#000" stroke-width="0.15">+/−</text>
<line x1="188.75" y1="339.05" x2="188.75" y2="342.86" stroke="#000" stroke-width="1.15"/>
<line x1="184.50" y1="339.05" x2="193.00" y2="339.05" stroke="#000" stroke-width="1.15"/>
<rect x="181.75" y="342.86" width="14.00" height="6.84" fill="url(#dB)" stroke="#000" stroke-width="1.15"/>
<text x="189.11" y="336.40" font-size="6.0" font-weight="bold" font-style="normal" text-anchor="middle" stroke="#000" stroke-width="0.28" letter-spacing="0.72" word-spacing="0">* **</text>
<rect x="186.15" y="335.95" width="0.8" height="1.3" fill="#555"/>
<text x="190.62" y="359.70" font-size="8.0" font-weight="normal" font-style="italic" text-anchor="middle" letter-spacing="0.45" stroke="#000" stroke-width="0.15">+/+</text>
<text x="190.62" y="368.30" font-size="8.0" font-weight="normal" font-style="italic" text-anchor="middle" letter-spacing="0.45" stroke="#000" stroke-width="0.15">−/−</text>
<line x1="209.75" y1="331.70" x2="209.75" y2="337.53" stroke="#000" stroke-width="1.15"/>
<line x1="205.50" y1="331.70" x2="214.00" y2="331.70" stroke="#000" stroke-width="1.15"/>
<rect x="202.50" y="337.53" width="14.50" height="12.17" fill="url(#hB)" stroke="#000" stroke-width="1.15"/>
<text x="210.11" y="329.05" font-size="6.0" font-weight="bold" font-style="normal" text-anchor="middle" stroke="#000" stroke-width="0.28" letter-spacing="0.72" word-spacing="0">* ** ***</text>
<rect x="201.25" y="328.60" width="0.8" height="1.3" fill="#555"/>
<rect x="209.75" y="328.60" width="0.8" height="1.3" fill="#555"/>
<text x="211.22" y="359.70" font-size="8.0" font-weight="normal" font-style="italic" text-anchor="middle" letter-spacing="0.45" stroke="#000" stroke-width="0.15">+/−</text>
<text x="211.22" y="368.30" font-size="8.0" font-weight="normal" font-style="italic" text-anchor="middle" letter-spacing="0.45" stroke="#000" stroke-width="0.15">−/−</text>
<line x1="230.88" y1="272.20" x2="230.88" y2="285.45" stroke="#000" stroke-width="1.15"/>
<line x1="226.62" y1="272.20" x2="235.12" y2="272.20" stroke="#000" stroke-width="1.15"/>
<rect x="223.75" y="285.45" width="14.25" height="64.25" fill="#000" stroke="#000" stroke-width="1.15"/>
<rect x="222.75" y="292.2" width="16.25" height="6.2" fill="#fff"/>
<text x="231.24" y="269.55" font-size="6.0" font-weight="bold" font-style="normal" text-anchor="middle" stroke="#000" stroke-width="0.28" letter-spacing="0.72" word-spacing="0">* ** ***</text>
<rect x="222.38" y="269.10" width="0.8" height="1.3" fill="#555"/>
<rect x="230.88" y="269.10" width="0.8" height="1.3" fill="#555"/>
<text x="232.12" y="359.70" font-size="8.0" font-weight="normal" font-style="italic" text-anchor="middle" letter-spacing="0.45" stroke="#000" stroke-width="0.15">−/−</text>
<text x="232.12" y="368.30" font-size="8.0" font-weight="normal" font-style="italic" text-anchor="middle" letter-spacing="0.45" stroke="#000" stroke-width="0.15">−/−</text>
<text x="40.60" y="359.70" font-size="6.9" font-weight="bold" font-style="italic" text-anchor="end"  stroke="#000" stroke-width="0.18">Bmp6</text>
<text x="40.60" y="368.30" font-size="6.9" font-weight="bold" font-style="italic" text-anchor="end"  stroke="#000" stroke-width="0.18">Tmprss6</text>
</svg>
</body></html>
